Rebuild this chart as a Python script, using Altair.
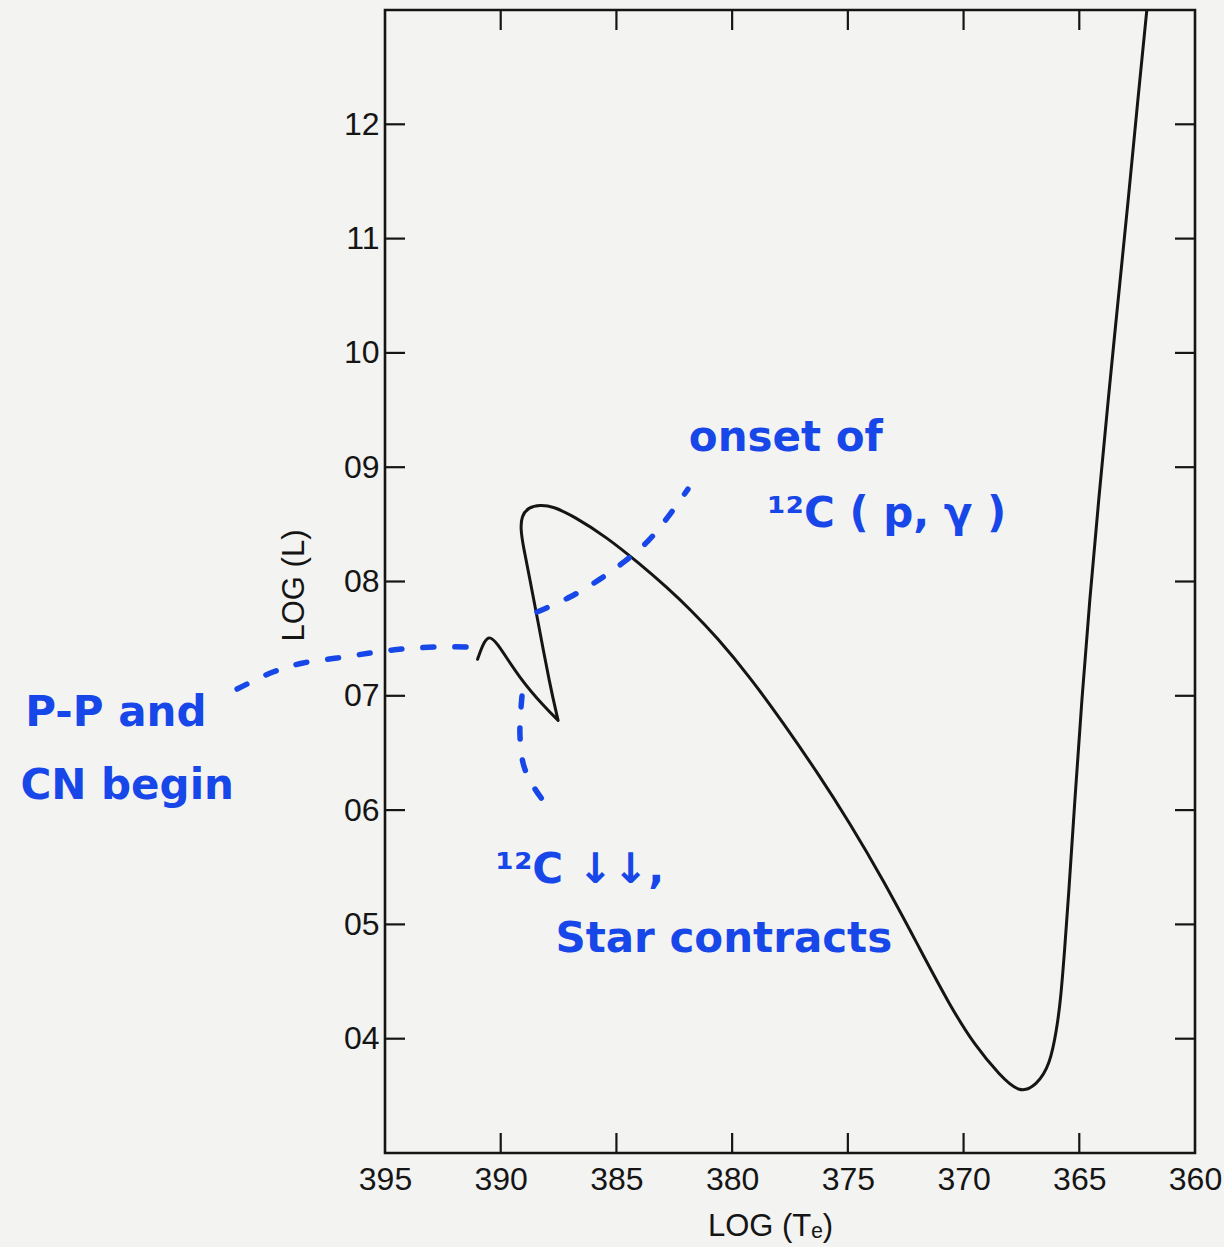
import altair as alt
import pandas as pd

# Evolutionary track: log effective temperature vs log luminosity
# (the tip of the first hook is repeated so the smoothed path keeps its cusp)
log_te = [3.9100, 3.9077, 3.9054, 3.9025, 3.8917, 3.8809, 3.8752, 3.8752,
          3.8752, 3.8787, 3.8841, 3.8874, 3.8903, 3.8914, 3.8910, 3.8881,
          3.8830, 3.8773, 3.8687, 3.8542, 3.8398, 3.8283, 3.8175, 3.8067,
          3.7923, 3.7779, 3.7635, 3.7491, 3.7348, 3.7203, 3.7059, 3.6951,
          3.6843, 3.6757, 3.6685, 3.6627, 3.6597, 3.6580, 3.6563, 3.6547,
          3.6519, 3.6489, 3.6455, 3.6416, 3.6375, 3.6332, 3.6288, 3.6247,
          3.6208]
log_l = [0.7320, 0.7453, 0.7520, 0.7497, 0.7147, 0.6900, 0.6785, 0.6785,
         0.6785, 0.7088, 0.7671, 0.8021, 0.8312, 0.8458, 0.8574, 0.8648,
         0.8671, 0.8656, 0.8574, 0.8388, 0.8152, 0.7951, 0.7744, 0.7514,
         0.7164, 0.6762, 0.6339, 0.5885, 0.5390, 0.4841, 0.4288, 0.3939,
         0.3679, 0.3519, 0.3592, 0.3767, 0.4087, 0.4350, 0.4787, 0.5224,
         0.6098, 0.6972, 0.7846, 0.8720, 0.9594, 1.0469, 1.1343, 1.2217,
         1.3003]

# Axis ticks
te_ticks = [3.95, 3.90, 3.85, 3.80, 3.75, 3.70, 3.65, 3.60]
l_ticks = [0.4, 0.5, 0.6, 0.7, 0.8, 0.9, 1.0, 1.1, 1.2]
te_inner_ticks = [3.90, 3.85, 3.80, 3.75, 3.70, 3.65]

# Hand-drawn leader lines (blue dashes)
pp_te = [4.0139, 3.9984, 3.9854, 3.9707, 3.9565, 3.9427, 3.9284, 3.9141]
pp_l = [0.7059, 0.7208, 0.7287, 0.7330, 0.7374, 0.7409, 0.7427, 0.7427]
cpg_te = [3.8843, 3.8701, 3.8571, 3.8463, 3.8364, 3.8278, 3.8191]
cpg_l = [0.7733, 0.7864, 0.8021, 0.8178, 0.8353, 0.8563, 0.8808]
c12_te = [3.8908, 3.8917, 3.8900, 3.8852, 3.8805]
c12_l = [0.6998, 0.6666, 0.6386, 0.6185, 0.6054]

# Hand-written notes
note_text = ["onset of", "¹²C ( p, γ )", "P-P and", "CN begin",
             "¹²C ↓↓,", "Star contracts"]
note_te = [3.7768, 3.7332, 4.0663, 4.0614, 3.8658, 3.8036]
note_l = [0.9140, 0.8476, 0.6736, 0.6098, 0.5364, 0.4760]

W, H = 810, 1143
INK = "#151515"
BLUE = "#1747e8"
LABEL_FONT = "Liberation Sans"
HAND_FONT = "DejaVu Sans"

track = pd.DataFrame({"te": log_te, "l": log_l, "i": range(len(log_te))})

leaders = pd.concat([
    pd.DataFrame({"te": pp_te, "l": pp_l, "i": range(len(pp_te)), "g": "pp"}),
    pd.DataFrame({"te": cpg_te, "l": cpg_l, "i": range(len(cpg_te)), "g": "cpg"}),
    pd.DataFrame({"te": c12_te, "l": c12_l, "i": range(len(c12_te)), "g": "c12"}),
])

notes = pd.DataFrame({"te": note_te, "l": note_l, "txt": note_text})

x_scale = alt.Scale(domain=[3.60, 3.95], reverse=True, nice=False, zero=False)
y_scale = alt.Scale(domain=[0.3, 1.3], nice=False, zero=False)

x_axis = alt.Axis(
    values=te_ticks,
    labelExpr="format(round(datum.value * 100), 'd')",
    ticks=False, tickSize=0, domain=False, grid=False,
    labelFont=LABEL_FONT, labelFontSize=32, labelColor=INK,
    labelPadding=11, labelFlush=False, labelOverlap=False,
    title="LOG (Tₑ)", titleFont=LABEL_FONT, titleFontSize=31,
    titleFontWeight="normal", titleColor=INK,
    titleX=385, titleY=82, titleBaseline="alphabetic", titleAlign="center",
)
y_axis = alt.Axis(
    values=l_ticks,
    labelExpr="format(round(datum.value * 10), '02d')",
    ticks=False, tickSize=0, domain=False, grid=False,
    labelFont=LABEL_FONT, labelFontSize=32, labelColor=INK,
    labelPadding=6, labelFlush=False, labelOverlap=False,
    title="LOG (L)", titleFont=LABEL_FONT, titleFontSize=31,
    titleFontWeight="normal", titleColor=INK,
    titleX=-82, titleY=575, titleAngle=270,
    titleBaseline="alphabetic", titleAlign="center",
)

X = alt.X("te:Q", scale=x_scale, axis=x_axis)
Y = alt.Y("l:Q", scale=y_scale, axis=y_axis)

line = alt.Chart(track).mark_line(
    color=INK, strokeWidth=3, interpolate="basis", clip=True,
    strokeJoin="round", strokeCap="round"
).encode(x=X, y=Y, order="i:Q")

dashes = alt.Chart(leaders).mark_line(
    color=BLUE, strokeWidth=5.5, strokeCap="round", strokeDash=[11, 21],
    interpolate="catmull-rom"
).encode(x=X, y=Y, order="i:Q", detail="g:N")

labels = alt.Chart(notes).mark_text(
    font=HAND_FONT, fontSize=42, fontWeight="bold", color=BLUE,
    align="center", baseline="alphabetic"
).encode(x=X, y=Y, text="txt:N")

te_tick_df = pd.DataFrame({"te": te_inner_ticks})
l_tick_df = pd.DataFrame({"l": l_ticks})

bottom_ticks = alt.Chart(te_tick_df).mark_rule(color=INK, strokeWidth=2.2).encode(
    x=X, y=alt.value(H), y2=alt.value(H - 20))
top_ticks = alt.Chart(te_tick_df).mark_rule(color=INK, strokeWidth=2.2).encode(
    x=X, y=alt.value(0), y2=alt.value(20))
left_ticks = alt.Chart(l_tick_df).mark_rule(color=INK, strokeWidth=2.2).encode(
    y=Y, x=alt.value(0), x2=alt.value(20))
right_ticks = alt.Chart(l_tick_df).mark_rule(color=INK, strokeWidth=2.2).encode(
    y=Y, x=alt.value(W), x2=alt.value(W - 20))

chart = alt.layer(
    line, dashes, labels, bottom_ticks, top_ticks, left_ticks, right_ticks
).properties(
    width=W, height=H,
    autosize=alt.AutoSizeParams(type="none"),
    padding={"left": 385, "top": 10, "right": 29, "bottom": 94},
    background="#f3f3f1",
).configure_view(
    stroke=INK, strokeWidth=2.6
)

chart.save("out.html", embed_options={"renderer": "svg", "actions": False})
